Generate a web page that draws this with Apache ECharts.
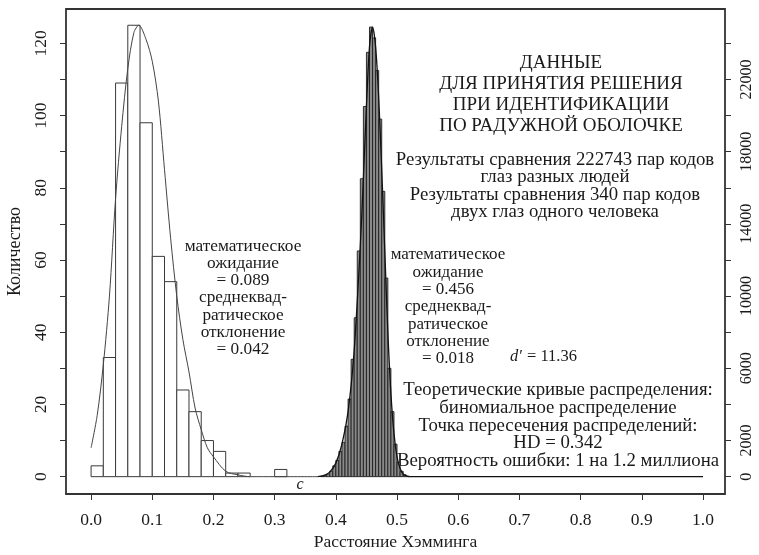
<!DOCTYPE html>
<html><head><meta charset="utf-8">
<script src="https://cdn.jsdelivr.net/npm/echarts@6/dist/echarts.min.js"></script>
<style>html,body{margin:0;padding:0;background:#fff}#c{width:759px;height:555px}</style>
</head><body><div id="c"></div>
<script>
// ---- data ----
const xTickValues = [0.0,0.1,0.2,0.3,0.4,0.5,0.6,0.7,0.8,0.9,1.0];
const leftTickValues = [0,10,20,30,40,50,60,70,80,90,100,110,120];
const leftLabelValues = [0,20,40,60,80,100,120];
const rightTickValues = [0,2000,4000,6000,8000,10000,12000,14000,16000,18000,20000,22000,24000];
const rightLabelValues = [0,2000,6000,10000,14000,18000,22000];

// same-eye comparisons (left axis), bin width 0.02
const sameBinWidth = 0.02;
const sameBinStart = [0.00,0.02,0.04,0.06,0.08,0.10,0.12,0.14,0.16,0.18,0.20,0.22,0.24,0.30];
const sameCounts   = [3,33,109,125,98,61,54,24,18,10,7,1,1,2];

// different-eye comparisons (right axis), bin width 0.005
const diffBinWidth = 0.005;
const diffBinStart = [0.375,0.380,0.385,0.390,0.395,0.400,0.405,0.410,0.415,0.420,0.425,0.430,0.435,0.440,0.445,0.450,0.455,0.460,0.465,0.470,0.475,0.480,0.485,0.490,0.495,0.500,0.505,0.510,0.515];
const diffCounts   = [30,80,150,300,600,900,1400,1900,2800,4300,6500,8800,12500,16500,20500,23500,24900,24300,22500,19800,15800,11000,6000,3600,1800,800,300,100,30];

// theoretical curves
const sameCurveX = [0.00,0.01,0.02,0.03,0.04,0.05,0.06,0.07,0.078,0.09,0.10,0.11,0.12,0.13,0.14,0.15,0.16,0.17,0.18,0.19,0.20,0.22,0.24,0.26,0.30,0.37];
const sameCurveY = [8,17,31,50,77,97,113,123,125,121,115,104,85,66,50,38,29,19,13,8,5.5,1.5,0.5,0,0,0];
const diffCurveX = [0.37,0.38,0.39,0.40,0.41,0.42,0.43,0.44,0.445,0.45,0.455,0.46,0.465,0.47,0.475,0.48,0.485,0.49,0.495,0.50,0.505,0.51,0.515,0.52,1.0];
const diffCurveY = [0,60,250,750,1800,3600,7000,12800,16500,20500,23800,24900,23800,21000,17000,12500,8000,4600,2400,1100,450,150,50,0,0];

const titleLines = ['ДАННЫЕ','ДЛЯ ПРИНЯТИЯ РЕШЕНИЯ','ПРИ ИДЕНТИФИКАЦИИ','ПО РАДУЖНОЙ ОБОЛОЧКЕ'];
const infoLines = ['Результаты сравнения 222743 пар кодов','глаз разных людей','Результаты сравнения 340 пар кодов','двух глаз одного человека'];
const sameStatLines = ['математическое','ожидание','= 0.089','среднеквад-','ратическое','отклонение','= 0.042'];
const diffStatLines = ['математическое','ожидание','= 0.456','среднеквад-','ратическое','отклонение','= 0.018'];
const bottomLines = ['Теоретические кривые распределения:','биномиальное распределение','Точка пересечения распределений:','HD = 0.342','Вероятность ошибки: 1 на 1.2 миллиона'];

// ---- chart ----
const FONT = '"Liberation Serif", "DejaVu Serif", serif';
const TXT = '#1a1a1a';
const chart = echarts.init(document.getElementById('c'), null, {renderer:'canvas'});

function rectRenderer(w, style){
  return function(params, api){
    const x0 = api.value(0), v = api.value(1);
    const p0 = api.coord([x0, 0]);
    const p1 = api.coord([x0 + w, v]);
    return {type:'rect', shape:{x:p0[0], y:p1[1], width:p1[0]-p0[0], height:p0[1]-p1[1]}, style:style};
  };
}

function textBlock(lines, cx, y0, lh, size){
  return lines.map((t,i)=>({type:'text', x:cx, y:y0+i*lh,
    style:{text:t, x:0, y:0, fill:TXT, font: size+'px '+FONT, textAlign:'center', textVerticalAlign:'middle'}}));
}

const graphics = []
  .concat(textBlock(titleLines, 561, 63, 21, 19))
  .concat(textBlock(infoLines, 555, 160, 17.5, 18.8))
  .concat(textBlock(sameStatLines, 243, 246, 17.3, 17.3))
  .concat(textBlock(diffStatLines, 448, 255, 17.3, 17))
  .concat(textBlock(bottomLines, 558, 390, 17.8, 18.8));
graphics.push({type:'text', x:510, y:357, style:{text:"d′", fill:TXT, font:'italic 16.5px '+FONT, textAlign:'left', textVerticalAlign:'middle'}});
graphics.push({type:'text', x:527, y:357, style:{text:"= 11.36", fill:TXT, font:'16.5px '+FONT, textAlign:'left', textVerticalAlign:'middle'}});
graphics.push({type:'text', x:300, y:485, style:{text:"c", fill:TXT, font:'italic 16px '+FONT, textAlign:'center', textVerticalAlign:'middle'}});

chart.setOption({
  animation:false,
  backgroundColor:'#fff',
  grid:{left:66, right:34, top:9, bottom:61, show:true, borderColor:'#333', borderWidth:1.8, backgroundColor:'transparent', containLabel:false, outerBoundsMode:'none'},
  xAxis:{type:'value', min:-0.041, max:1.036,
    name:'Расстояние Хэмминга', nameLocation:'middle', nameGap:38,
    nameTextStyle:{fontFamily:FONT, fontSize:17.5, color:TXT},
    axisLine:{show:false, onZero:false}, splitLine:{show:false},
    axisTick:{show:true, inside:false, length:6, customValues:xTickValues, lineStyle:{color:'#333'}},
    axisLabel:{customValues:xTickValues, margin:17, fontFamily:FONT, fontSize:17.5, color:TXT, formatter:v=>v.toFixed(1)}
  },
  yAxis:[
    {type:'value', position:'left', min:-4.8, max:129.5,
      name:'Количество', nameLocation:'middle', nameGap:40, nameRotate:90,
      nameTextStyle:{fontFamily:FONT, fontSize:18, color:TXT},
      axisLine:{show:false, onZero:false}, splitLine:{show:false},
      axisTick:{show:true, length:6, customValues:leftTickValues, lineStyle:{color:'#333'}},
      axisLabel:{customValues:leftLabelValues, rotate:90, margin:16, fontFamily:FONT, fontSize:17.5, color:TXT}
    },
    {type:'value', position:'right', min:-960, max:25900,
      axisLine:{show:false, onZero:false}, splitLine:{show:false},
      axisTick:{show:true, length:6, customValues:rightTickValues, lineStyle:{color:'#333'}},
      axisLabel:{customValues:rightLabelValues, rotate:90, margin:14, fontFamily:FONT, fontSize:16, color:TXT, formatter:v=>String(v)}
    }
  ],
  graphic:graphics,
  series:[
    {type:'custom', name:'same', xAxisIndex:0, yAxisIndex:0, encode:{x:0,y:1},
      data: sameBinStart.map((x,i)=>[x, sameCounts[i]]),
      renderItem: rectRenderer(sameBinWidth, {fill:'#fff', stroke:'#3a3a3a', lineWidth:1}), z:2},
    {type:'custom', name:'diff', xAxisIndex:0, yAxisIndex:1, encode:{x:0,y:1},
      data: diffBinStart.map((x,i)=>[x, diffCounts[i]]),
      renderItem: rectRenderer(diffBinWidth, {fill:'#8a8a8a', stroke:'#1e1e1e', lineWidth:0.9}), z:2},
    {type:'line', name:'sameCurve', xAxisIndex:0, yAxisIndex:0, smooth:0.3, showSymbol:false,
      data: sameCurveX.map((x,i)=>[x, sameCurveY[i]]), lineStyle:{color:'#444', width:1}, z:3},
    {type:'line', name:'diffCurve', xAxisIndex:0, yAxisIndex:1, smooth:0.3, showSymbol:false,
      data: diffCurveX.map((x,i)=>[x, diffCurveY[i]]), lineStyle:{color:'#111', width:1.3}, z:3}
  ]
});
</script>
</body></html>
